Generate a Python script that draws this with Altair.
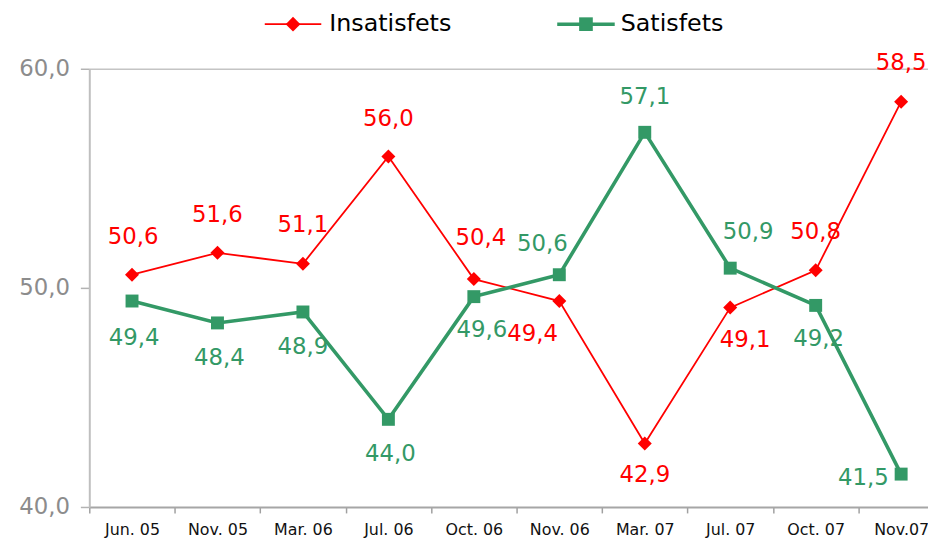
import json
import altair as alt
import pandas as pd

# ---------------- data ----------------
categories = ["Jun. 05", "Nov. 05", "Mar. 06", "Jul. 06", "Oct. 06",
              "Nov. 06", "Mar. 07", "Jul. 07", "Oct. 07", "Nov.07"]
insatisfets = [50.6, 51.6, 51.1, 56.0, 50.4, 49.4, 42.9, 49.1, 50.8, 58.5]
satisfets = [49.4, 48.4, 48.9, 44.0, 49.6, 50.6, 57.1, 50.9, 49.2, 41.5]
series_names = ["Insatisfets", "Satisfets"]
y_ticks = [40, 50, 60]

# ---------------- styling ----------------
series_colors = ["#ff0000", "#339966"]
series_shapes = ["diamond", "square"]
series_sizes = [200, 170]
series_widths = [1.8, 3.6]
# data-label offsets in pixels (dx, dy) as placed in the original
insat_dx = [1, 0, 0, 0, 7, -27, 0, 15, 0, 0]
insat_dy = [-38, -38, -39, -38, -41, 33, 32, 33, -39, -39]
sat_dx = [2, 2, 0, 2, 8, -17, 0, 18, 3, -38]
sat_dy = [37, 35, 35, 35, 34, -31, -36, -36, 34, 4]
# legend layout (pixels relative to the plot's top-left corner)
legend_line_x = [(177, 234), (472, 530)]
legend_text_x = [242, 536]
legend_y = -45

W, H = 846, 442
BAND = 86.2
XMIN = -0.5
XMAX = XMIN + W / BAND
YMIN, YMAX = 40, 60
PX_X = BAND
PX_Y = H / (YMAX - YMIN)
FONT = "DejaVu Sans"

rows = []
for name, vals, dxs, dys in [(series_names[0], insatisfets, insat_dx, insat_dy),
                             (series_names[1], satisfets, sat_dx, sat_dy)]:
    for i, (c, v, dx, dy) in enumerate(zip(categories, vals, dxs, dys)):
        rows.append({"cat": c, "idx": i, "series": name, "value": v, "dx": dx, "dy": dy})
df = pd.DataFrame(rows)

color_scale = alt.Scale(domain=series_names, range=series_colors)
sw_scale = alt.Scale(domain=series_names, range=series_widths)

x_values = [v / 2 for v in range(-1, 2 * len(categories) - 1)]
x_label_expr = ("datum.value % 1 == 0 ? " + json.dumps(categories) + "[datum.value] : ''")

x_axis = alt.Axis(
    values=x_values, labelExpr=x_label_expr, title=None, grid=False,
    tickOpacity={"condition": {"test": "datum.value % 1 != 0", "value": 1}, "value": 0},
    tickSize=6, tickWidth=1.5, tickColor="#a0a0a0",
    domainColor="#a6a6a6", domainWidth=2,
    labelFont=FONT, labelFontSize=16, labelColor="#111111", labelPadding=9,
    labelOverlap=False, labelFlush=False,
)
y_axis = alt.Axis(
    values=y_ticks, labelExpr="replace(format(datum.value, '.1f'), '.', ',')",
    title=None, labelFont=FONT, labelFontSize=23, labelColor="#8c8c8c",
    labelPadding=11, tickSize=9, tickWidth=1.5, tickColor="#b3b3b3",
    domainColor="#bfbfbf", domainWidth=2,
    grid=True, gridColor="#c4c4c4", gridWidth=1.5,
    gridOpacity={"condition": {"test": "datum.value == 60", "value": 1}, "value": 0},
)

x_scale = alt.Scale(domain=[XMIN, XMAX], nice=False, zero=False)
y_scale = alt.Scale(domain=[YMIN, YMAX], nice=False, zero=False)
color_enc = alt.Color("series:N", scale=color_scale, legend=None)

base = alt.Chart(df)

lines = base.mark_line().encode(
    x=alt.X("idx:Q", scale=x_scale, axis=x_axis),
    y=alt.Y("value:Q", scale=y_scale, axis=y_axis),
    color=color_enc,
    strokeWidth=alt.StrokeWidth("series:N", scale=sw_scale, legend=None),
    order="idx:Q",
)

layers = [lines]
for name, shp, sz in zip(series_names, series_shapes, series_sizes):
    layers.append(
        base.transform_filter(alt.datum.series == name)
        .mark_point(filled=True, opacity=1, size=sz, shape=shp)
        .encode(
            x=alt.X("idx:Q", scale=x_scale, axis=x_axis),
            y=alt.Y("value:Q", scale=y_scale, axis=y_axis),
            color=color_enc,
        )
    )

labels = base.transform_calculate(
    label="replace(format(datum.value, '.1f'), '.', ',')",
    lx=f"datum.idx + datum.dx / {PX_X}",
    ly=f"datum.value - datum.dy / {PX_Y}",
).mark_text(font=FONT, fontSize=23, align="center", baseline="middle").encode(
    x=alt.X("lx:Q", scale=x_scale, axis=x_axis),
    y=alt.Y("ly:Q", scale=y_scale, axis=y_axis),
    text="label:N",
    color=color_enc,
)
layers.append(labels)

# legend drawn above the plot
for name, shp, sz, sw, (lx0, lx1), tx in zip(series_names, series_shapes, series_sizes,
                                             series_widths, legend_line_x, legend_text_x):
    ldf = pd.DataFrame({"series": [name]})
    lb = alt.Chart(ldf)
    layers.append(lb.mark_rule(strokeWidth=sw).encode(
        x=alt.value(lx0), x2=alt.value(lx1), y=alt.value(legend_y), color=color_enc))
    layers.append(lb.mark_point(filled=True, opacity=1, size=sz + 20, shape=shp).encode(
        x=alt.value((lx0 + lx1) / 2), y=alt.value(legend_y), color=color_enc))
    layers.append(lb.mark_text(font=FONT, fontSize=24, align="left", baseline="middle",
                               color="#000000").encode(
        x=alt.value(tx), y=alt.value(legend_y), text="series:N"))

chart = alt.layer(*layers).properties(
    width=W, height=H,
    autosize=alt.AutoSizeParams(type="none"),
    padding={"left": 82, "top": 59, "right": 0, "bottom": 30},
    background="white",
).configure_view(stroke=None)

chart.save("out.html", embed_options={"renderer": "svg", "actions": False})
